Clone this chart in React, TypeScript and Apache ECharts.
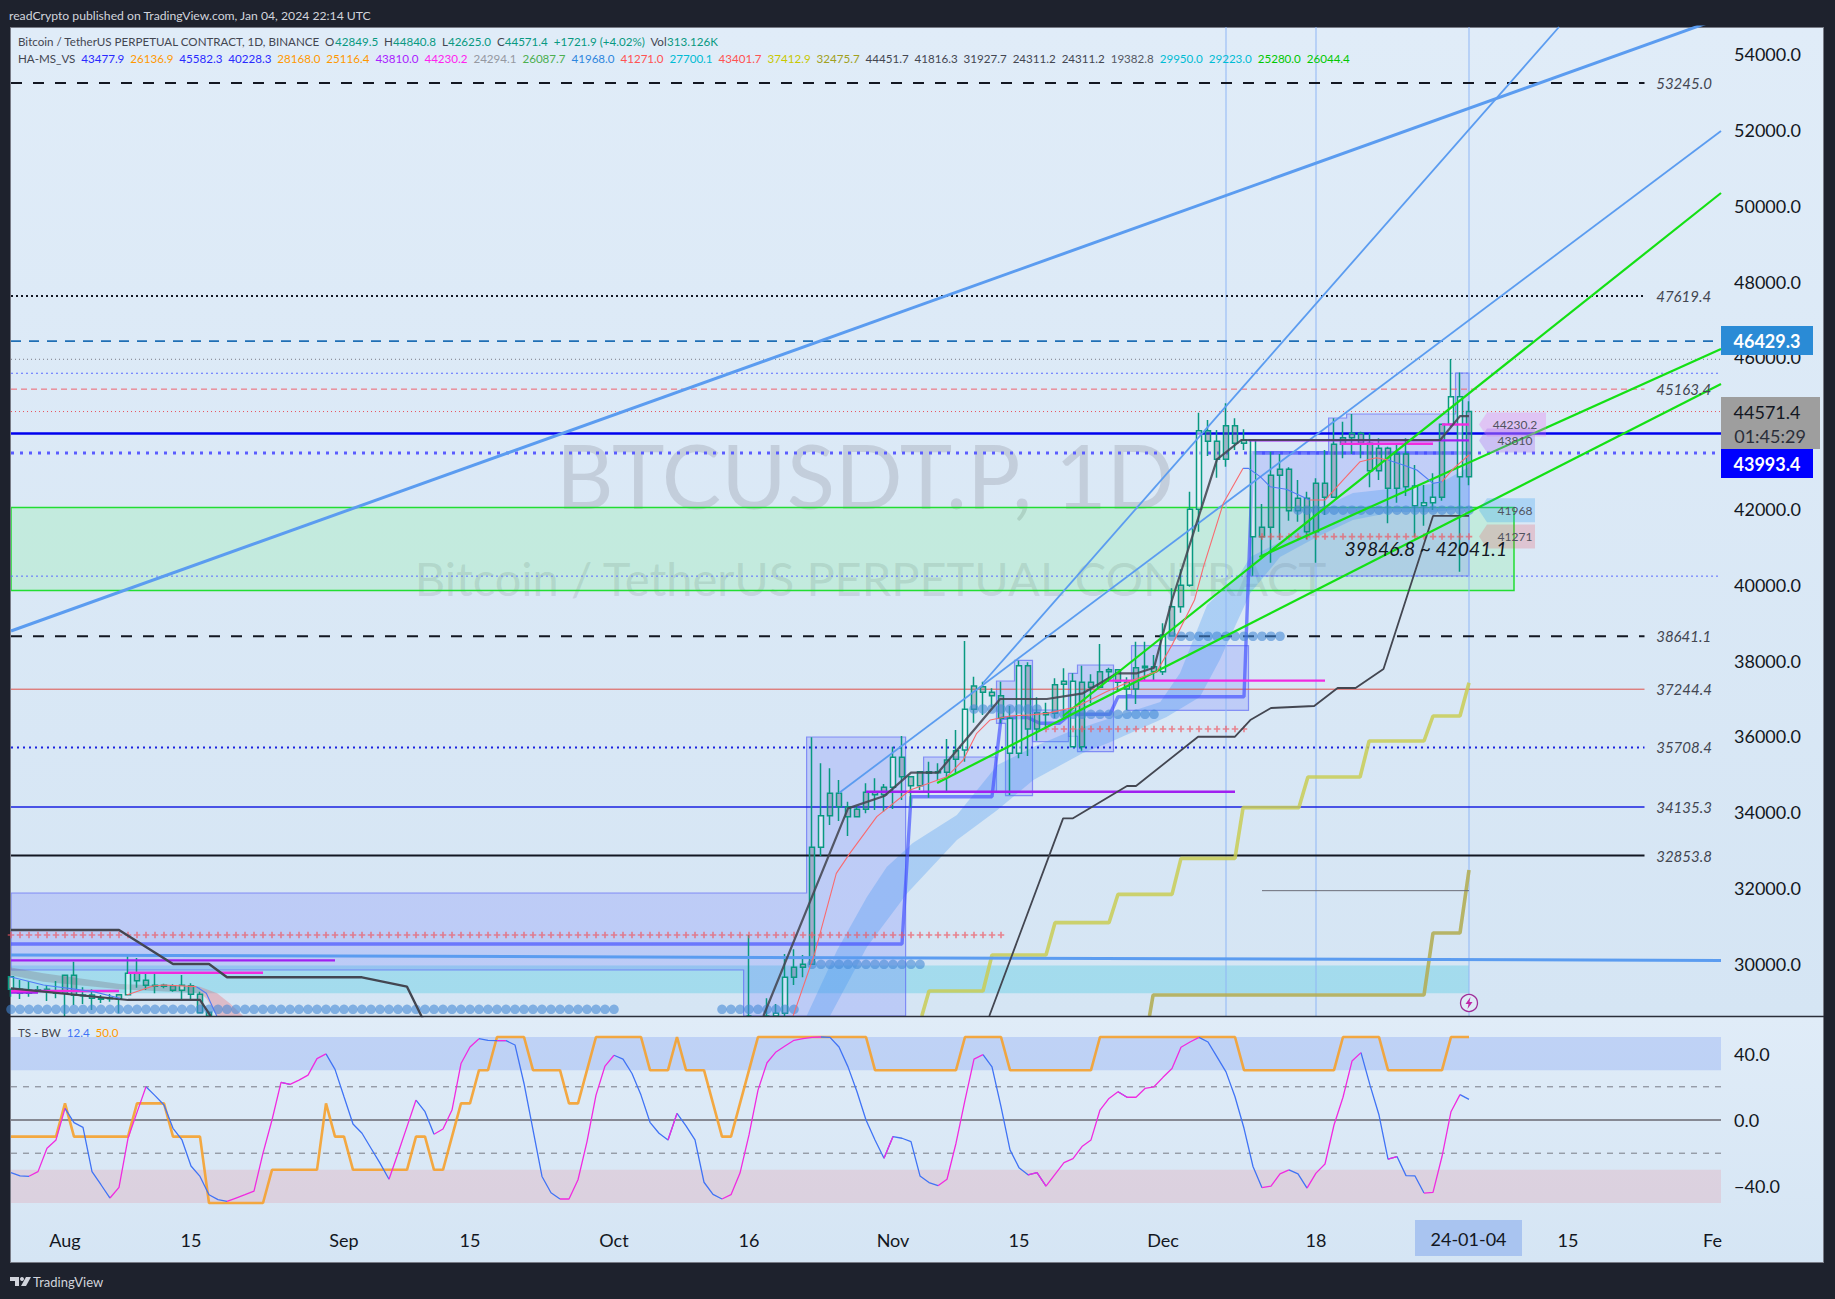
import React, { useEffect, useRef } from "react";
import * as echarts from "echarts";

const FONT = "Lato, 'Noto Sans', sans-serif";
const X_MIN = -6, X_MAX = 184;
const Y_MIN = 28620, Y_MAX = 54720;
const RSI_MIN = -60.24, RSI_MAX = 62.65;

const publishLine = "readCrypto published on TradingView.com, Jan 04, 2024 22:14 UTC";
const symbolTitle = "Bitcoin / TetherUS PERPETUAL CONTRACT, 1D, BINANCE";
const ohlcLabels = ["O", "H", "L", "C"];
const ohlcValues = ["42849.5", "44840.8", "42625.0", "44571.4"];
const legendValues = ["43477.9","26136.9","45582.3","40228.3","28168.0","25116.4","43810.0","44230.2","24294.1","26087.7","41968.0","41271.0","27700.1","43401.7","37412.9","32475.7","44451.7","41816.3","31927.7","24311.2","24311.2","19382.8","29950.0","29223.0","25280.0","26044.4"];
const legendColors = ["#2a2aff","#ff9800","#2a2aff","#2a2aff","#ff9800","#ff9800","#aa22ff","#ff22ee","#9598a1","#4caf50","#2e86de","#ff5252","#00bcd4","#ff5252","#c8c800","#a0a020","#434651","#434651","#434651","#434651","#434651","#555863","#00bcd4","#00bcd4","#00c800","#00c800"];

const xTickDays = [0, 14, 31, 45, 61, 76, 92, 106, 122, 139, 167];
const xTickLabels = ["Aug", "15", "Sep", "15", "Oct", "16", "Nov", "15", "Dec", "18", "15"];
const priceTicks = [30000, 32000, 34000, 36000, 38000, 40000, 42000, 46000, 48000, 50000, 52000, 54000];
const rsiTicks = [40, 0, -40];

const candleDays = [-6,-5,-4,-3,-2,-1,0,1,2,3,4,5,6,7,8,9,10,11,12,13,14,15,16,76,78,79,80,81,82,83,84,85,86,87,88,89,90,91,92,93,94,95,96,97,98,99,100,101,102,103,104,105,106,107,108,109,110,111,112,113,114,115,116,117,118,119,120,121,122,123,124,125,126,127,128,129,130,131,132,133,134,135,136,137,138,139,140,141,142,143,144,145,146,147,148,149,150,151,152,153,154,155,156];
const opens = [29324,29324,29219,29280,29324,29280,29219,29694,29157,29175,29095,29078,29069,29183,29755,29562,29430,29403,29421,29298,29421,29192,28717,28621,28621,28621,28690,29641,29905,29984,33072,33907,34497,34145,33881,34074,34523,34461,34655,35447,34937,34699,35068,35042,35051,35394,35640,36713,37312,37162,37074,36476,35552,37866,36194,36625,36608,37373,37452,35728,37426,37294,37707,37760,37426,37250,37813,37839,37707,38648,39422,39985,41991,44067,43785,43310,44199,43733,43820,41269,41516,42888,43046,41956,42281,41401,42677,42307,43706,43882,43996,43733,43011,43601,42545,43451,42607,42088,42167,42307,44234,44964,42849.5];
const closes = [29658,29219,29298,29315,29271,29219,29694,29166,29175,29087,29060,29095,29183,29746,29553,29430,29403,29430,29298,29430,29192,28708,28621,28621,28621,28690,29641,29905,29984,33072,33907,34497,34145,33881,34074,34523,34461,34655,35447,34937,34699,35068,35024,35068,35376,35623,36713,37329,37162,37074,36476,35552,37866,36194,36625,36573,37364,37452,35728,37426,37294,37707,37760,37426,37250,37813,37848,37707,38675,39422,39985,41991,44067,43785,43310,44199,43733,43820,41269,41516,42888,43046,41956,42281,41401,42677,42307,43706,43882,43996,43733,43011,43601,42545,43451,42589,42088,42167,42307,44234,44964,42853,44571.4];
const lows = [29131,29069,29131,29245,29016,29087,28621,28911,28937,28779,28963,28999,28691,29166,29368,29306,29219,29350,29263,29069,29069,28691,28621,28621,28621,28621,28621,29438,29641,29966,32843,33661,33767,33371,33881,33969,34057,34013,34083,34321,34127,34585,34382,34850,34541,35024,35332,36361,36564,36766,36344,34453,35420,35482,35886,36212,36476,36432,35728,35623,36872,37268,37444,37180,36696,36854,37487,37470,37619,38630,39264,39950,41401,43398,42826,43117,43557,43557,40240,40742,40583,41181,41692,41665,41199,40583,41841,42307,43337,43451,43337,42571,42765,41621,42167,42343,41269,41560,41973,42220,44172,40346,42625];
const highs = [29658,29570,29544,29412,29438,29544,29694,30054,29377,29324,29175,29201,29201,30257,30151,29729,29729,29474,29456,29702,29482,29263,28760,30758,29086,28937,30256,30380,30230,35975,35288,35156,34848,34277,34162,34761,34893,34743,35728,36010,34937,35068,35332,35288,35931,36168,38517,37575,37444,37268,37444,36801,37998,37954,37030,36889,37532,37795,37663,37866,37637,38438,37813,37760,37558,38499,38499,38147,38983,39906,40407,42457,44542,44348,44084,44788,44392,44102,43820,42132,43513,43451,43099,42765,42457,42809,43557,44392,44304,44507,44040,43996,43865,43645,43733,43865,43161,42633,42941,44234,45959,45600,44840.8];
const lightBodyDays = [-6,7,13,79,80,84,92,100,105,106,112,122,125,126,132,150,151,152,154,155];

const hullRising: number[][][] = [
  [[6.85,29175],[9.8,29412],[10.9,29438],[14.6,29394]],
  [[80.9,28620],[83.3,30274],[85.7,32385],[87.2,32913],[90.2,33881],[93.9,34585],[98,34936],[99.8,35376],[101.3,36080],[102.8,36432],[105,36538],[107.2,36564],[109.1,36607],[112.4,36783],[115.7,37179],[118.7,37487],[121.3,37707],[123.1,38454],[125.5,39598],[126.5,40478],[128.7,42149],[130.9,43073]],
  [[138.3,42237],[140,42237],[142,42765],[143.9,43249],[145.7,43354],[147,43293]],
  [[153,42721],[154.3,43073],[156,43425]],
];
const hullFalling: number[][][] = [
  [[-6.1,29658],[-2.4,29438],[3.15,29263],[6.1,29087]],
  [[14.6,29394],[15.7,29219],[16.9,28603]],
  [[130.9,43073],[131.5,43073],[132.8,42853],[133.9,42589],[135.7,42519],[138.3,42237]],
  [[147,43293],[148.7,43161],[150.2,43029],[152,42677],[153,42721]],
];

const blueStep = [[-6,30520],[93,30520],[94,34408],[103,34408],[104,36477],[106.9,36503],[108.3,36345],[110.5,36345],[111.7,36582],[116.1,36582],[117,37047],[131,37047],[132,43477.9],[156,43477.9]];
const darkStepA = [[-6,30890],[6,30890],[12,29993],[16,29993],[18,29641],[33,29641],[38,29394],[39.6,28620],[41,28000]];
const darkStepB = [[-6,29350],[7,29043],[15,29043],[16.1,28647],[17,28000]];
const darkStepC = [[77.6,28620],[87,34100],[91.1,34434],[94,35041],[97,35041],[103.9,36986],[109.1,36986],[113.1,37136],[116.9,37664],[119.1,37664],[121,37812],[123,39598],[128,43311],[130.7,43821],[152.8,43821],[155,44451.7],[156,44451.7]];
const darkStepD = [[102.7,28620],[110.9,33837],[112,33837],[118,34690],[119,34690],[125.9,35990],[130,35990],[131.7,36431],[134,36748],[138.8,36801],[141.4,37276],[143.4,37276],[146.5,37778],[152,41816.3],[156,41816.3]];
const oliveStep = [[95.2,28620],[96,29280],[102,29280],[103,30230],[109,30230],[110,31083],[116,31083],[117,31831],[123,31831],[124,32781],[130,32781],[130.9,34120],[137.1,34120],[138.1,34926],[143.9,34926],[144.9,35877],[151,35877],[152,36537],[155,36537],[156,37412.9]];
const oliveDarkStep = [[120.5,28620],[120.9,29174],[151,29174],[152,30811],[155,30811],[156,32475.7]];

const trendThick = [[-6,38780],[184,54957]];
const trendFlat = [[-6,30230],[184,30085]];
const trendA = [[86,34505],[184,51975]];
const trendB = [[102,37408],[166,54720]];
const greenUpper = [[110.9,36537],[184,50339]];
const greenMiddle = [[132.7,40733],[184,46222]];
const greenLower = [[96.9,34769],[184,45299]];

const labelledLevels = [53245.0, 47619.4, 45163.4, 38641.1, 37244.4, 35708.4, 34135.3, 32853.8];
const grayDottedLevel = 45951;
const alertLevel = 46429.3;
const resistLevel = 43993.4;
const lastPrice = 44571.4;
const upperBand = 45582.3;
const midBand = 43477.9;
const lowerBand = 40228.3;
const verticalDays = [129, 139, 156];

const greenZone = [[-6,42041.1],[161,42041.1],[161,39846.8],[-6,39846.8]];
const cyanZone = [[-6,29950],[156,29950],[156,29223],[-6,29223]];
const boxA = [[-6,31866],[82.4,31866],[82.4,35983],[93.4,35983],[93.4,28620],[75.4,28620],[75.4,29834],[-6,29834]];
const boxB = [[95.4,35455],[103.5,35455],[103.5,34530],[95.4,34530]];
const boxC = [[103.5,37461],[105.5,37461],[105.5,38007],[107.5,38007],[107.5,34434],[104.5,34434],[104.5,36345],[103.5,36345]];
const boxD = [[107.5,36696],[111.5,36696],[111.5,35859],[107.5,35859]];
const boxE = [[111.5,37664],[112.5,37664],[112.5,37883],[116.5,37883],[116.5,35595],[112.5,35595],[112.5,36000],[111.5,36000]];
const boxF = [[118.5,38392],[131.5,38392],[131.5,36688],[118,36688],[118,37100],[118.5,37100]];
const boxG = [[131.7,43512],[140.4,43512],[140.4,44401],[142.4,44401],[142.4,44507],[154.5,44507],[154.5,45589],[156,45589],[156,40232],[131.7,40232]];

const ribbonTop = [[82.4,28620],[85.8,30362],[89.1,31761],[91.3,32553],[94.2,33186],[99.1,33925],[103.6,35244],[107.6,35719],[111.5,36115],[117.2,36564],[121.7,36907],[123.9,37672],[126.9,39467],[130.6,40311],[131.7,40733],[136.1,41261],[139.8,42053],[143.1,42422],[149.1,42581],[152.8,42686],[156,43108]];
const ribbonBottom = [[85,28620],[89.1,30441],[93.6,31866],[99.1,33265],[103.6,34057],[107.6,34848],[113.1,35561],[115.9,35825],[122.4,36511],[126.1,37039],[128.3,38015],[131.7,39783],[135,40733],[139.1,41261],[143.1,41710],[147.6,41921],[152,41921],[156,42026]];
const grayRibbon = [[-6.1,29904],[-2.4,29746],[6.1,29464],[15,29394],[15,29218],[6.1,29324],[-2.4,29526],[-6.1,29702]];
const pinkRibbon = [[15,29394],[16.9,29218],[18.3,28954],[19.8,28620],[16.9,28620],[15.7,29086],[15,29218]];

const dotRuns = [[-6,61,28797],[73,81,28797],[83,95,29984],[101,108,36722],[110,121,36582],[123,135,38641.1],[137,156,41968]];
const plusRuns = [[-6,104,30758],[109,131,36194],[133,156,41271]];
const segmentsPurple = [[-6,30,30089],[-6,-3,29240],[89,130,34540],[131.5,156,43810]];
const segmentsMagenta = [[7,22,29763],[-6,6,29280],[116,140,37470],[141.7,152,43723],[153,156,44230.2]];
const shortGray = [133, 156, 31927.7];

const tagPrices = [44230.2, 43810, 41968, 41271];
const tagTexts = ["44230.2", "43810", "41968", "41271"];
const tagFills = ["rgba(230,120,240,0.33)", "rgba(170,110,240,0.33)", "rgba(33,150,243,0.25)", "rgba(242,54,69,0.2)"];
const rangeNote = "39846.8 ~ 42041.1";

const rsiValues = [-31.7,-33.7,-33.9,-31.1,-17,-12,
 7,-1.6,-4.4,-31.1,-39,-47,-40.6,-11,4.6,20,14.7,9,-5,-12,-27.7,-34,-45,-48,-49,-47,-45,-42.8,-20,0,22.7,21.5,24,27,37,39.8,30.5,14,-2.4,-8,-17,-26,-35.7,-20,-4,12,5,-8.6,-5.4,6,34,44,49,48,
 47.8,47.8,45.2,22,-6,-34,-43.8,-47.6,-47.6,-36,-13,15,32.5,39,36.7,28,15,-1.4,-8,-12,4,-3.6,-12,-37.5,-44.8,-47.6,-45,-32,-9,18,34.5,41,44.6,48,49,49.8,50,49.8,44,32,17,0,-12,-23,-10,-11,-13,-33.7,-37.7,-39.6,-35.7,-14,12,36.7,39.4,
 32,8,-18,-28.7,-33,-31.7,-39.8,-32.7,-25.7,-23.3,-16,-12,6,13,17,13.7,13.7,19,20,25.7,31,43.8,47,49.8,47,38,29,14,-5,-28,-40.8,-39.8,-32.5,-30,-32.5,-41,-32,-26.5,-3,13.7,35.5,40.6,21,3,-23.5,-22,-33.5,-33.7,-44,-43.6,-22,5,15.3,12.4];
const orangeValues = [-10,-10,-10,-10,-10,-10,10,-10,-10,-10,-10,-10,-10,-10,10,10,10,10,-10,-10,-10,-10,-50,-50,-50,-50,-50,-50,-50,-30,-30,-30,-30,-30,-30,10,-10,-10,-30,-30,-30,-30,-30,-30,-30,-10,-10,-30,-30,-10,10,10,30,30,50,50,50,50,30,30,30,30,10,10,30,50,50,50,50,50,50,30,30,30,50,30,30,30,10,-10,-10,10,30,50,50,50,50,50,50,50,50,50,50,50,50,50,30,30,30,30,30,30,30,30,30,30,50,50,50,50,50,30,30,30,30,30,30,30,30,30,30,50,50,50,50,50,50,50,50,50,50,50,50,50,50,50,50,30,30,30,30,30,30,30,30,30,30,30,50,50,50,50,50,30,30,30,30,30,30,30,50,50,50];
const rsiBands = [[50, 30], [-30, -50]];
const rsiGuides = [20, -20];

const UP = "#089981", DOWN = "#f23645";
const LIGHT_BODY = "rgba(255,255,255,0.5)", GRAY_BODY = "rgba(110,113,125,0.36)";

function line(name: string, data: any[], color: string, width: number, extra: any = {}, axis = 0) {
  return {
    name, type: "line", data, xAxisIndex: axis, yAxisIndex: axis, symbol: "none", silent: true, showSymbol: false,
    animation: false, z: extra.z ?? 5, connectNulls: false,
    lineStyle: { color, width, type: extra.type ?? "solid", opacity: extra.opacity ?? 1, cap: "butt" },
  };
}
function poly(name: string, pts: number[][], fill: string, stroke: string | null, lw: number, z: number, axis = 0) {
  return {
    name, type: "custom", xAxisIndex: axis, yAxisIndex: axis, coordinateSystem: "cartesian2d", clip: true, silent: true, z,
    data: [pts[0]],
    renderItem: (_: any, api: any) => ({
      type: "polygon", shape: { points: pts.map((p) => api.coord(p)) },
      style: { fill, stroke: stroke ?? "none", lineWidth: lw },
    }),
  };
}
function expand(runs: number[][]) {
  const out: number[][] = [];
  runs.forEach(([a, b, p]) => { for (let d = a; d <= b; d++) out.push([d, p]); });
  return out;
}
function flatSeg(name: string, s: number[], color: string, w: number, z = 6) {
  return line(name, [[s[0], s[2]], [s[1], s[2]]], color, w, { z });
}
function textSeries(name: string, at: number[], text: string, font: any, fill: string, z: number, align = "center") {
  return {
    name, type: "custom", xAxisIndex: 0, yAxisIndex: 0, coordinateSystem: "cartesian2d", silent: true, z, data: [at],
    renderItem: (_: any, api: any) => {
      const c = api.coord(at);
      return { type: "text", x: c[0], y: c[1], style: { text, fill, align, verticalAlign: "middle", fontFamily: FONT, ...font } };
    },
  };
}

const levelStyles: any[] = [
  { color: "#131722", width: 2, type: [11, 11] },
  { color: "#131722", width: 2, type: [2, 3] },
  { color: "#f0616d", width: 1, type: [6, 4] },
  { color: "#131722", width: 2, type: [11, 11] },
  { color: "#e0524a", width: 1, type: "solid" },
  { color: "#1a22e0", width: 2, type: [2, 4] },
  { color: "#1a22e0", width: 1.6, type: "solid" },
  { color: "#131722", width: 2, type: "solid" },
];

function buildOption() {
  const xs = rsiValues.map((_, i) => i + X_MIN);
  const rising = rsiValues.map((v, i) => {
    const up = (i > 0 && v >= rsiValues[i - 1]) || (i < rsiValues.length - 1 && rsiValues[i + 1] >= v);
    return [xs[i], up ? v : "-"];
  });
  const falling = rsiValues.map((v, i) => {
    const dn = (i > 0 && v < rsiValues[i - 1]) || (i < rsiValues.length - 1 && rsiValues[i + 1] < v);
    return [xs[i], dn ? v : "-"];
  });
  const candleData = candleDays.map((d, i) => {
    const fill = lightBodyDays.includes(d) ? LIGHT_BODY : GRAY_BODY;
    return {
      value: [d, opens[i], closes[i], lows[i], highs[i]],
      itemStyle: { color: fill, color0: fill, borderColor: UP, borderColor0: DOWN, borderWidth: 1.5 },
    };
  });

  const series: any[] = [];
  series.push(textSeries("wm1", [88.9, 42920], "BTCUSDT.P, 1D", { fontSize: 89 }, "rgba(120,123,134,0.24)", 0));
  series.push(textSeries("wm2", [89.5, 40170], "Bitcoin / TetherUS PERPETUAL CONTRACT", { fontSize: 47 }, "rgba(120,123,134,0.2)", 0));
  series.push(poly("green zone", greenZone, "rgba(0,255,20,0.105)", "#22dd33", 1.5, 1));
  series.push(poly("cyan zone", cyanZone, "rgba(60,200,225,0.32)", null, 0, 1));
  [boxA, boxB, boxC, boxD, boxE, boxF, boxG].forEach((b, i) =>
    series.push(poly("box" + i, b, "rgba(90,100,255,0.2)", "rgba(90,100,245,0.65)", 1.2, 2)));
  series.push(poly("ribbon", [...ribbonTop, ...[...ribbonBottom].reverse()], "rgba(66,150,243,0.3)", null, 0, 2));
  series.push(poly("gray ribbon", grayRibbon, "rgba(120,123,134,0.35)", null, 0, 2));
  series.push(poly("pink ribbon", pinkRibbon, "rgba(240,90,100,0.3)", null, 0, 2));

  verticalDays.forEach((d) => series.push(line("v" + d, [[d, Y_MIN], [d, Y_MAX]], "#8fb6f5", 1, { z: 3 })));

  labelledLevels.forEach((p, i) =>
    series.push(line("level" + p, [[X_MIN, p], [175.5, p]], levelStyles[i].color, levelStyles[i].width, { type: levelStyles[i].type, z: 4 })));
  series.push(line("gray dotted", [[X_MIN, grayDottedLevel], [X_MAX, grayDottedLevel]], "#787b86", 1, { type: [1, 3], z: 4 }));
  series.push(line("alert", [[X_MIN, alertLevel], [X_MAX, alertLevel]], "#1f6fb5", 1.8, { type: [10, 8], z: 4 }));
  series.push(line("upper band", [[X_MIN, upperBand], [X_MAX, upperBand]], "#5b6cff", 1, { type: [2, 3], z: 4 }));
  series.push(line("last", [[X_MIN, lastPrice], [X_MAX, lastPrice]], "#e8505b", 1, { type: [1, 3], z: 4 }));
  series.push(line("resist", [[X_MIN, resistLevel], [X_MAX, resistLevel]], "#0000ee", 2.4, { z: 4 }));
  series.push(line("mid band", [[X_MIN, midBand], [X_MAX, midBand]], "#5a5cff", 3, { type: [3, 6], z: 4 }));
  series.push(line("lower band", [[X_MIN, lowerBand], [X_MAX, lowerBand]], "#5b6cff", 1, { type: [2, 3], z: 4 }));

  series.push(line("blue step", blueStep, "#4450ff", 3.4, { opacity: 0.68, z: 4 }));

  series.push({
    name: "BTCUSDT.P", type: "candlestick", xAxisIndex: 0, yAxisIndex: 0, data: candleData, barWidth: 6, silent: true, z: 5, clip: true,
    encode: { x: 0, y: [1, 2, 3, 4] },
  });

  series.push(line("dark A", darkStepA, "#434651", 2.4, { z: 7 }));
  series.push(line("dark B", darkStepB, "#434651", 2.2, { z: 7 }));
  series.push(line("dark C", darkStepC, "#434651", 2.2, { z: 7, opacity: 0.88 }));
  series.push(line("dark D", darkStepD, "#434651", 1.8, { z: 7 }));
  series.push(line("olive", oliveStep, "#c9cc55", 3.6, { opacity: 0.85, z: 6 }));
  series.push(line("olive dark", oliveDarkStep, "#b3ae58", 3.6, { opacity: 0.9, z: 6 }));

  series.push(line("trend thick", trendThick, "#5b9cf0", 3, { z: 6 }));
  series.push(line("trend flat", trendFlat, "#5b9cf0", 3, { z: 6 }));
  series.push(line("trend A", trendA, "#5b9cf0", 1.8, { z: 6 }));
  series.push(line("trend B", trendB, "#5b9cf0", 1.8, { z: 6 }));
  series.push(line("green upper", greenUpper, "#14e014", 2.2, { z: 7 }));
  series.push(line("green middle", greenMiddle, "#14e014", 2.2, { z: 7 }));
  series.push(line("green lower", greenLower, "#14e014", 2.2, { z: 7 }));

  hullRising.forEach((s, i) => series.push(line("hull up" + i, s, "#f96a6f", 1.1, { z: 7 })));
  hullFalling.forEach((s, i) => series.push(line("hull down" + i, s, "#4f7bf5", 1.1, { z: 7 })));

  segmentsPurple.forEach((s, i) => series.push(flatSeg("purple" + i, s, "#a020f0", 2.4)));
  segmentsMagenta.forEach((s, i) => series.push(flatSeg("magenta" + i, s, "#f02be0", 2.4)));
  series.push(flatSeg("gray short", shortGray, "#6b6e78", 1));

  series.push({
    name: "dots", type: "scatter", xAxisIndex: 0, yAxisIndex: 0, data: expand(dotRuns), symbol: "circle", symbolSize: 9.6, silent: true, z: 6,
    clip: true, itemStyle: { color: "rgba(66,135,214,0.72)" },
  });
  series.push({
    name: "plus", type: "scatter", xAxisIndex: 0, yAxisIndex: 0, data: expand(plusRuns), silent: true, z: 6, clip: true,
    symbol: "path://M3 0h2v3h3v2h-3v3h-2v-3h-3v-2h3z", symbolSize: 6.5, itemStyle: { color: "rgba(240,85,95,0.85)" },
  });

  labelledLevels.forEach((p) =>
    series.push(textSeries("lbl" + p, [176.8, p], p.toFixed(1), { fontSize: 15, fontStyle: "italic" }, "#434651", 9, "left")));
  series.push(textSeries("range", [151.2, 40946], rangeNote, { fontSize: 19.3, fontStyle: "italic" }, "#131722", 9));

  series.push({
    name: "tags", type: "custom", xAxisIndex: 0, yAxisIndex: 0, coordinateSystem: "cartesian2d", silent: true, z: 8,
    data: tagPrices.map((p, i) => [157, p, i]),
    renderItem: (_: any, api: any) => {
      const i = api.value(2);
      const c = api.coord([api.value(0), api.value(1)]);
      const w = i === 0 ? 67 : 56;
      const x = c[0] + 1, y = c[1], h = 12;
      return {
        type: "group",
        children: [
          { type: "polygon", shape: { points: [[x, y], [x + 8, y - h], [x + w, y - h], [x + w, y + h], [x + 8, y + h]] }, style: { fill: tagFills[i] } },
          { type: "text", x: x + 36, y, style: { text: tagTexts[i], fill: "#50535e", fontSize: 12, fontFamily: FONT, align: "center", verticalAlign: "middle" } },
        ],
      };
    },
  });

  // indicator pane
  rsiBands.forEach((b, i) =>
    series.push(poly("band" + i, [[X_MIN, b[0]], [X_MAX, b[0]], [X_MAX, b[1]], [X_MIN, b[1]]], i === 0 ? "rgba(66,110,240,0.2)" : "rgba(240,90,100,0.15)", null, 0, 1, 1)));
  rsiGuides.forEach((g) => series.push(line("guide" + g, [[X_MIN, g], [X_MAX, g]], "#787b86", 1, { type: [6, 6], z: 2 }, 1)));
  series.push(line("zero", [[X_MIN, 0], [X_MAX, 0]], "#868993", 2, { z: 2 }, 1));
  series.push(line("orange", xs.map((d, i) => [d, orangeValues[i]]), "#f5a12d", 2.6, { z: 3, opacity: 0.9 }, 1));
  series.push(line("rsi falling", falling, "#4073f5", 1.3, { z: 4 }, 1));
  series.push(line("rsi rising", rising, "#f02be0", 1.3, { z: 4 }, 1));

  const HEAD = 11.6;
  const legendRich: any = {};
  legendColors.forEach((c, i) => { legendRich["c" + i] = { fill: c, fontSize: HEAD, fontFamily: FONT }; });
  legendRich.v = { fill: "#089981", fontSize: HEAD, fontFamily: FONT };
  const legendText = "HA-MS_VS  " + legendValues.map((v, i) => `{c${i}|${v}}`).join("  ");
  const ohlcText = ohlcLabels.map((l, i) => `${l}{v|${ohlcValues[i]}}`).join("  ");
  const headRest = `  ${ohlcText}  {v|+1721.9 (+4.02%)}  Vol{v|313.126K}`;

  const tag = (x: number, y: number, w: number, h: number, fill: string) => ({ type: "rect", shape: { x, y, width: w, height: h }, style: { fill }, z: 50 });
  const tagText = (x: number, y: number, t: string, fill: string, weight = "normal") => ({
    type: "text", x, y, z: 51, style: { text: t, fill, fontSize: 18, fontWeight: weight, fontFamily: FONT, align: "center", verticalAlign: "middle" },
  });
  const graphic: any[] = [
    { type: "text", x: 9, y: 15, z: 50, style: { text: publishLine, fill: "#d1d4dc", fontSize: 12.2, fontFamily: FONT, verticalAlign: "middle" } },
    { type: "text", x: 18, y: 41, z: 50, style: { text: symbolTitle + headRest, fill: "#434651", fontSize: HEAD, fontFamily: FONT, verticalAlign: "middle", rich: legendRich } },
    { type: "text", x: 18, y: 58, z: 50, style: { text: legendText, fill: "#434651", fontSize: HEAD, fontFamily: FONT, verticalAlign: "middle", rich: legendRich } },
    { type: "text", x: 18, y: 1032, z: 50, style: { text: "TS - BW  {a|12.4}  {b|50.0}", fill: "#434651", fontSize: HEAD, fontFamily: FONT, verticalAlign: "middle",
        rich: { a: { fill: "#4073f5", fontSize: HEAD, fontFamily: FONT }, b: { fill: "#ff9800", fontSize: HEAD, fontFamily: FONT } } } },
    tag(1721, 326, 92, 29, "#2a8bd6"), tagText(1767, 341, "46429.3", "#ffffff", "bold"),
    tag(1721, 397, 99, 52, "#9e9e9e"), tagText(1767, 412, "44571.4", "#131722"), tagText(1770, 436, "01:45:29", "#2a2e39"),
    tag(1721, 449, 92, 29, "#0000ff"), tagText(1767, 463.5, "43993.4", "#ffffff", "bold"),
    tag(1415, 1220, 107, 36, "#a9c4f0"), tagText(1468.5, 1239, "24-01-04", "#131722"),
    { type: "text", x: 1703, y: 1240, z: 50, style: { text: "Fe", fill: "#131722", fontSize: 18, fontFamily: FONT, verticalAlign: "middle" } },
    { type: "line", z: 40, shape: { x1: 10, y1: 1016.5, x2: 1824, y2: 1016.5 }, style: { stroke: "#2a2e39", lineWidth: 1.5 } },
    { type: "circle", z: 50, shape: { cx: 1469, cy: 1003, r: 8.5 }, style: { fill: "#dfeaf6", stroke: "#a0309a", lineWidth: 1.3 } },
    { type: "polygon", z: 51, shape: { points: [[1470.5, 997], [1465.5, 1004], [1468.5, 1004], [1467.5, 1009], [1472.5, 1002], [1469.5, 1002]] }, style: { fill: "#c026a8" } },
    { type: "polygon", z: 50, shape: { points: [[10, 1277], [19, 1277], [19, 1286], [15, 1286], [15, 1281], [10, 1281]] }, style: { fill: "#d1d4dc" } },
    { type: "circle", z: 50, shape: { cx: 22, cy: 1279, r: 2 }, style: { fill: "#d1d4dc" } },
    { type: "polygon", z: 50, shape: { points: [[26, 1277], [31, 1277], [26, 1286], [21, 1286]] }, style: { fill: "#d1d4dc" } },
    { type: "text", x: 33, y: 1282, z: 50, style: { text: "TradingView", fill: "#d1d4dc", fontSize: 13, fontFamily: FONT, verticalAlign: "middle" } },
  ];

  const axisText = { color: "#131722", fontSize: 18, fontFamily: FONT };
  return {
    animation: false,
    backgroundColor: "transparent",
    grid: [
      { left: 11, top: 27, width: 1710, height: 989 },
      { left: 11, top: 1016, width: 1710, height: 204 },
    ],
    xAxis: [
      { type: "value", gridIndex: 0, min: X_MIN, max: X_MAX, show: false, splitLine: { show: false } },
      {
        type: "value", gridIndex: 1, min: X_MIN, max: X_MAX, position: "bottom", splitLine: { show: false },
        axisLine: { show: false }, axisTick: { show: false },
        axisLabel: {
          ...axisText, margin: 11, customValues: xTickDays, hideOverlap: false,
          formatter: (v: number) => xTickLabels[xTickDays.indexOf(v)] ?? "",
        },
      },
    ],
    yAxis: [
      {
        type: "value", gridIndex: 0, min: Y_MIN, max: Y_MAX, position: "right", splitLine: { show: false },
        axisLine: { show: false, onZero: false }, axisTick: { show: false },
        axisLabel: { ...axisText, margin: 13, customValues: priceTicks, formatter: (v: number) => v.toFixed(1) },
      },
      {
        type: "value", gridIndex: 1, min: RSI_MIN, max: RSI_MAX, position: "right", splitLine: { show: false },
        axisLine: { show: false, onZero: false }, axisTick: { show: false },
        axisLabel: { ...axisText, margin: 13, customValues: rsiTicks, formatter: (v: number) => v.toFixed(1).replace("-", "\u2212") },
      },
    ],
    series,
    graphic,
  };
}

export default function App() {
  const ref = useRef<HTMLDivElement>(null);
  useEffect(() => {
    document.body.style.margin = "0";
    document.body.style.background = "#1e222d";
    const chart = echarts.init(ref.current!, undefined, { renderer: "svg" });
    chart.setOption(buildOption() as any);
    return () => chart.dispose();
  }, []);
  return (
    <div style={{ position: "absolute", left: 0, top: 0, width: 1835, height: 1299, background: "#1e222d", overflow: "hidden" }}>
      <div style={{ position: "absolute", left: 10, top: 27, width: 1814, height: 989, boxSizing: "border-box", borderTop: "1px solid #787b86", borderLeft: "1px solid #787b86", borderRight: "1px solid #787b86", background: "linear-gradient(#e0ecf8,#d5e5f4)" }} />
      <div style={{ position: "absolute", left: 10, top: 1016, width: 1814, height: 247, boxSizing: "border-box", borderBottom: "1px solid #787b86", borderLeft: "1px solid #787b86", borderRight: "1px solid #787b86", background: "linear-gradient(#e0ecf8,#d5e5f4)" }} />
      <div ref={ref} style={{ position: "absolute", left: 0, top: 0, width: 1835, height: 1299 }} />
    </div>
  );
}
